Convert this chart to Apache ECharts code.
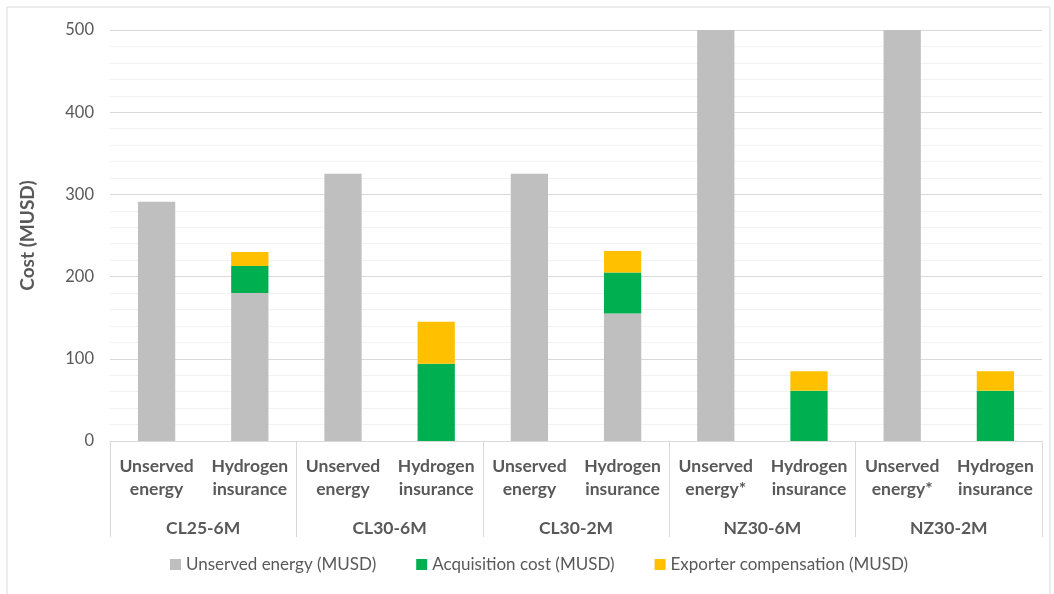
<!DOCTYPE html>
<html>
<head>
<meta charset="utf-8">
<script src="https://cdn.jsdelivr.net/npm/echarts@6/dist/echarts.min.js"></script>
<style>
  html, body { margin: 0; padding: 0; background: #fff; }
  #container { width: 1054px; height: 594px; }
</style>
</head>
<body>
<div id="container"></div>
<script>
var dom = document.getElementById("container");
var myChart = echarts.init(dom);

// categories
var groups = ['CL25-6M', 'CL30-6M', 'CL30-2M', 'NZ30-6M', 'NZ30-2M'];
var bars = [
    'Unserved\nenergy', 'Hydrogen\ninsurance',
    'Unserved\nenergy', 'Hydrogen\ninsurance',
    'Unserved\nenergy', 'Hydrogen\ninsurance',
    'Unserved\nenergy*', 'Hydrogen\ninsurance',
    'Unserved\nenergy*', 'Hydrogen\ninsurance'
];
var seriesNames = ['Unserved energy (MUSD)', 'Acquisition cost (MUSD)', 'Exporter compensation (MUSD)'];

// values
var unserved = [291, 180, 325, 0, 325, 155, 500, 0, 500, 0];
var acquisition = [0, 33, 0, 94, 0, 50, 0, 61, 0, 61];
var exporter = [0, 17, 0, 51, 0, 26, 0, 24, 0, 24];

var colors = ['#bfbfbf', '#00b050', '#ffc000'];
var font = 'Lato, "Open Sans", sans-serif';
var textColor = '#595959';

function mkSeries(name, data, color) {
    return {
        name: name,
        type: 'bar',
        stack: 'cost',
        barWidth: '40%',
        xAxisIndex: 0,
        itemStyle: { color: color },
        data: data.map(function (v) { return v === 0 ? '-' : v; })
    };
}

var option = {
    textStyle: { fontFamily: font },
    animation: false,
    graphic: [{
        type: 'rect',
        shape: { x: 7, y: 7, width: 1043, height: 600 },
        style: { fill: 'none', stroke: '#d9d9d9', lineWidth: 1 },
        silent: true
    }],
    grid: { left: 110, right: 12, top: 30, bottom: 153 },
    legend: {
        bottom: 16,
        left: 165,
        itemWidth: 11,
        itemHeight: 11,
        itemGap: 40,
        icon: 'rect',
        textStyle: { fontFamily: font, fontSize: 17, color: textColor },
        data: seriesNames
    },
    xAxis: [{
        type: 'category',
        data: bars,
        position: 'bottom',
        axisLine: { lineStyle: { color: '#d9d9d9', width: 1 } },
        axisTick: { show: false },
        axisLabel: {
            interval: 0,
            margin: 14,
            fontFamily: font,
            fontSize: 17.5,
            fontWeight: 'bold',
            color: textColor,
            lineHeight: 23
        }
    }, {
        type: 'category',
        data: groups,
        position: 'bottom',
        axisLine: { show: false },
        axisTick: { show: true, length: 96, lineStyle: { color: '#d9d9d9' } },
        axisLabel: {
            interval: 0,
            margin: 78,
            fontFamily: font,
            fontSize: 17.5,
            fontWeight: 'bold',
            color: textColor
        },
        splitLine: { show: false }
    }],
    yAxis: {
        type: 'value',
        min: 0,
        max: 500,
        interval: 100,
        name: 'Cost (MUSD)',
        nameLocation: 'middle',
        nameGap: 73,
        nameTextStyle: { fontFamily: font, fontSize: 19, fontWeight: 'bold', color: textColor },
        axisLine: { show: false },
        axisTick: { show: false },
        axisLabel: { margin: 16, fontFamily: font, fontSize: 16.5, color: textColor },
        splitLine: { lineStyle: { color: '#d9d9d9', width: 1 } },
        minorTick: { show: false, splitNumber: 5 },
        minorSplitLine: { show: true, lineStyle: { color: '#f2f2f2', width: 1 } }
    },
    series: [
        mkSeries(seriesNames[0], unserved, colors[0]),
        mkSeries(seriesNames[1], acquisition, colors[1]),
        mkSeries(seriesNames[2], exporter, colors[2])
    ]
};

myChart.setOption(option);
window.onresize = myChart.resize;
</script>
</body>
</html>
